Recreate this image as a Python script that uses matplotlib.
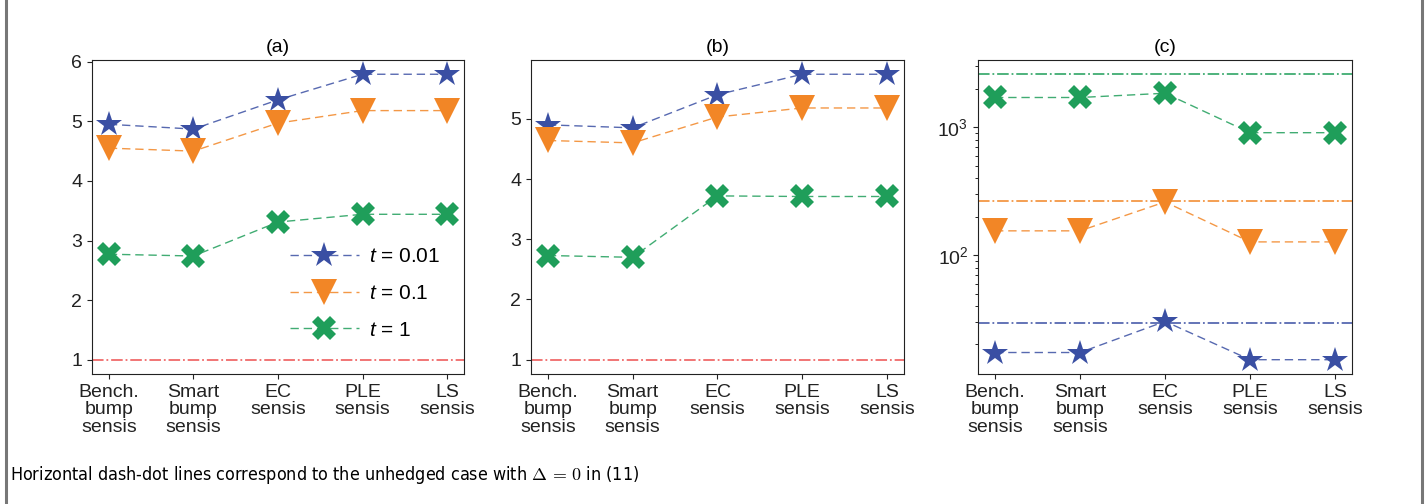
import numpy as np
import matplotlib
matplotlib.use('Agg')
import matplotlib.pyplot as plt
from matplotlib.lines import Line2D

plt.rcParams['font.family'] = ['Liberation Sans', 'DejaVu Sans']
plt.rcParams['font.size'] = 14
plt.rcParams['mathtext.fontset'] = 'custom'
plt.rcParams['mathtext.rm'] = 'Liberation Sans'
plt.rcParams['mathtext.it'] = 'Liberation Sans:italic'

# data
methods = ['Bench.\nbump\nsensis', 'Smart\nbump\nsensis', 'EC\nsensis', 'PLE\nsensis', 'LS\nsensis']
t_labels = ['$t$ = 0.01', '$t$ = 0.1', '$t$ = 1']

# panel (a)
a_t001 = [4.95, 4.87, 5.36, 5.79, 5.79]
a_t01 = [4.55, 4.50, 4.97, 5.18, 5.18]
a_t1 = [2.77, 2.74, 3.31, 3.44, 3.44]
a_unhedged = 1.0

# panel (b)
b_t001 = [4.90, 4.85, 5.40, 5.74, 5.74]
b_t01 = [4.64, 4.60, 5.03, 5.18, 5.18]
b_t1 = [2.73, 2.70, 3.72, 3.71, 3.71]
b_unhedged = 1.0

# panel (c), log scale
c_t001 = [17.3, 17.3, 30.3, 15.2, 15.2]
c_t01 = [155, 155, 261, 127, 127]
c_t1 = [1714, 1714, 1851, 909, 909]
c_unhedged = [29.7, 264, 2606]

colors = ['#3a4fa3', '#f28626', '#1f9e5a']
markers = ['*', 'v', 'X']
msizes = [19, 19, 17]

fig = plt.figure(figsize=(14.28, 5.04), dpi=100)
ax_a = fig.add_axes([0.0644, 0.258, 0.2605, 0.623])
ax_b = fig.add_axes([0.3718, 0.258, 0.2612, 0.623])
ax_c = fig.add_axes([0.6849, 0.258, 0.2619, 0.623])

x = np.arange(len(methods))


def draw(ax, series):
    for vals, c, m, ms, lab in zip(series, colors, markers, msizes, t_labels):
        ax.plot(x, vals, linestyle=(0, (6, 3.5)), color=c, lw=1, alpha=0.85)
        ax.plot(x, vals, linestyle='none', marker=m, ms=ms, color=c,
                markeredgewidth=0)
    ax.set_xticks(x)
    ax.set_xticklabels(methods, linespacing=1.05)
    ax.tick_params(colors='#222222', labelsize=14)
    for s in ax.spines.values():
        s.set_color('#222222')


draw(ax_a, [a_t001, a_t01, a_t1])
ax_a.axhline(a_unhedged, color='#f06a6a', lw=1.3, linestyle='-.')
ax_a.set_title('(a)', fontsize=14)
ax_a.set_yticks([1, 2, 3, 4, 5, 6])

draw(ax_b, [b_t001, b_t01, b_t1])
ax_b.axhline(b_unhedged, color='#f06a6a', lw=1.3, linestyle='-.')
ax_b.set_title('(b)', fontsize=14)
ax_b.set_yticks([1, 2, 3, 4, 5])

draw(ax_c, [c_t001, c_t01, c_t1])
ax_c.set_yscale('log')
for h, c in zip(c_unhedged, colors):
    ax_c.axhline(h, color=c, lw=1.3, linestyle='-.', alpha=0.85)
ax_c.set_title('(c)', fontsize=14)

handles = [Line2D([], [], color=c, linestyle=(0, (6, 3.5)), lw=1, alpha=0.85)
           for c in colors]
handles = [(h, Line2D([], [], color=c, marker=m, ms=ms, linestyle='none',
                      markeredgewidth=0))
           for h, c, m, ms in zip(handles, colors, markers, msizes)]
ax_a.legend(handles, t_labels, loc='upper left', bbox_to_anchor=(0.51, 0.43),
            frameon=False, handlelength=3.3, handletextpad=0.5,
            labelspacing=0.85, fontsize=15, borderaxespad=0)

fig.text(0.007, 0.057, 'Horizontal dash-dot lines correspond to the unhedged case with $\\Delta\\,=\\,0$ in (11)',
         fontsize=12.9, family='DejaVu Sans', fontstretch='condensed',
         math_fontfamily='cm', va='center')

# grey frame lines at the sides
fig.add_artist(Line2D([0.0045, 0.0045], [0, 1], color='#777777', lw=2.2))
fig.add_artist(Line2D([0.9958, 0.9958], [0, 1], color='#777777', lw=2.2))

fig.savefig('out.png', dpi=100)
